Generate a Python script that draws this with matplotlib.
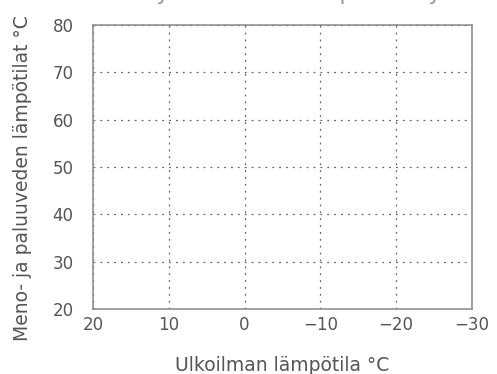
import matplotlib
matplotlib.use("Agg")
import matplotlib.pyplot as plt

x_ticks = [20, 10, 0, -10, -20, -30]
y_ticks = [20, 30, 40, 50, 60, 70, 80]
x_label = "Ulkoilman lämpötila °C"
y_label = "Meno- ja paluuveden lämpötilat °C"
title = "Lämmitysverkoston lämpötilakäyrä"

plt.rcParams['font.family'] = ['DejaVu Sans']
text_color = "#555555"

fig = plt.figure(figsize=(4.97, 3.74), dpi=100)
ax = fig.add_axes([93 / 497, 1 - 309 / 374, (472 - 93) / 497, (309 - 25) / 374])

ax.set_xlim(x_ticks[0], x_ticks[-1])
ax.set_ylim(y_ticks[0], y_ticks[-1])
ax.set_xticks(x_ticks)
ax.set_yticks(y_ticks)
ax.set_xticklabels(["\u2212" + str(-v) if v < 0 else str(v) for v in x_ticks])

ax.grid(True, linestyle=(0, (1.5, 4)), color="#666666", linewidth=0.9)
ax.tick_params(axis="x", length=0, labelsize=12, labelcolor=text_color, pad=5)
ax.tick_params(axis="y", length=0, labelsize=12, labelcolor=text_color, pad=14)
for s in ax.spines.values():
    s.set_color("#888888")
    s.set_linewidth(1.1)

ax.set_xlabel(x_label, fontsize=13.5, color=text_color, labelpad=16)
ax.set_ylabel(y_label, fontsize=13.5, color=text_color)
ax.yaxis.set_label_coords(-0.16, 0.462)

fig.text(0.54, 1.0 + 6 / 374, title, fontsize=16, color="#999999", ha="center", va="center")

fig.savefig("out.png", dpi=100)
